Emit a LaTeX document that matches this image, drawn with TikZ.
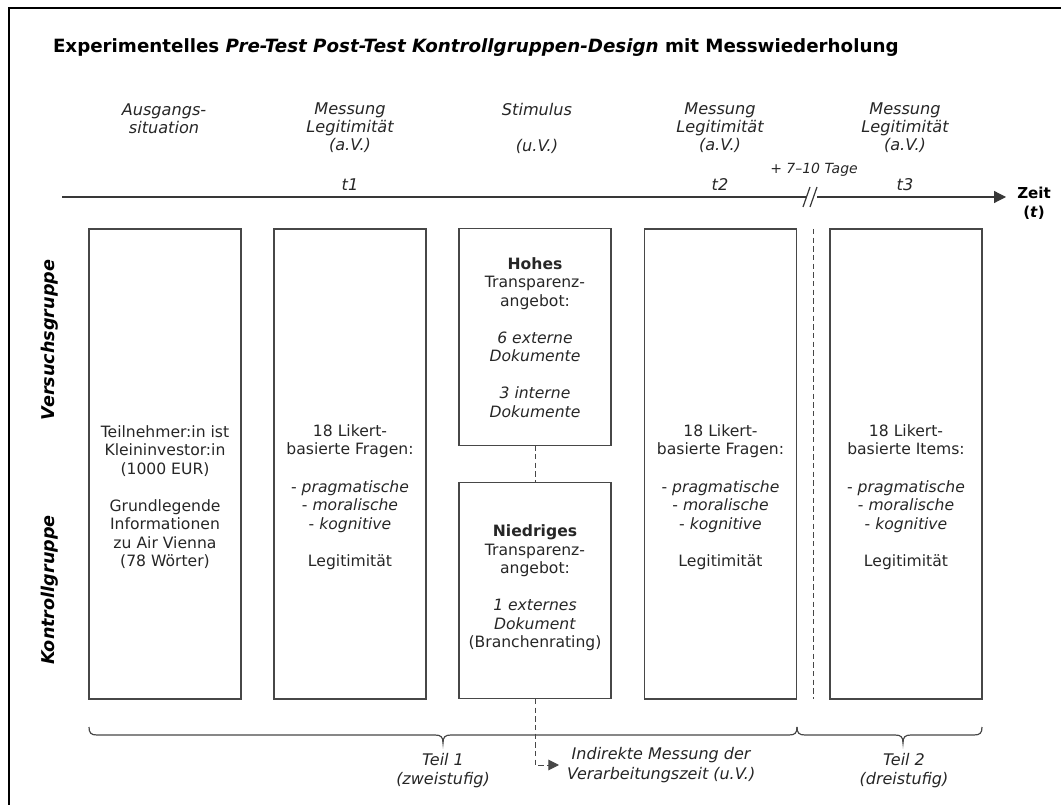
\documentclass[tikz,border=0pt]{standalone}
\usepackage{fontspec}
\setmainfont{DejaVu Sans}
\usetikzlibrary{arrows.meta,calc}
\tikzset{
 every node/.style={inner sep=0pt, outer sep=0pt},
 txt/.style={align=center, font=\fontsize{11.7}{13.9}\selectfont, text=black!85},
 hdr/.style={align=center, font=\fontsize{12.1}{13.5}\selectfont\itshape, text=black!85},
 box/.style={draw=black!72, line width=0.9pt, minimum width=114pt},
 tall/.style={box, minimum height=352.5pt},
 half/.style={box, minimum height=162.5pt},
 dashline/.style={draw=black!72, line width=0.75pt, dash pattern=on 4pt off 2.5pt},
 axisline/.style={draw=black!78, line width=0.9pt},
 grp/.style={rotate=90, font=\fontsize{13.2}{15}\selectfont\bfseries\itshape},
 bracepath/.style={draw=black!72, line width=0.9pt},
}
\begin{document}
\begin{tikzpicture}[x=0.75pt,y=-0.75pt]
\useasboundingbox (0,0) rectangle (1061,805);
\draw[line width=1.5pt] (9,805) -- (9,8) -- (1061,8);

\node[anchor=base west, font=\fontsize{13.7}{15}\selectfont\bfseries] (title) at (53,53)
  {Experimentelles \textit{Pre-Test Post-Test Kontrollgruppen-Design} mit Messwiederholung};

% headers
\node[hdr] (h1) at (164,119) {Ausgangs-\\situation};
\node[hdr] (h2) at (350,128) {Messung\\Legitimität\\(a.V.)};
\node[hdr] (h3) at (537,128) {Stimulus\\[13.5pt](u.V.)};
\node[hdr] (h4) at (720,128) {Messung\\Legitimität\\(a.V.)};
\node[hdr] (h5) at (905,128) {Messung\\Legitimität\\(a.V.)};
\node[hdr] (t1) at (350,185) {t1};
\node[hdr] (t2) at (720,185) {t2};
\node[hdr] (t3) at (905,185) {t3};
\node[hdr, font=\fontsize{10.5}{12}\selectfont\itshape] (tage) at (814,170) {+ 7–10 Tage};

% time axis
\coordinate (ax0) at (62,197);
\coordinate (axb1) at (807,197);
\coordinate (axb2) at (817,197);
\coordinate (ax1) at (1006,197);
\draw[axisline] (ax0) -- (axb1);
\draw[axisline,-{Triangle[length=9pt,width=9pt]}] (axb2) -- (ax1);
\draw[axisline] (803,207) -- (810,187);
\draw[axisline] (810,207) -- (817,187);
\node[align=center, font=\fontsize{11.3}{14}\selectfont\bfseries] (zeit) at (1034,203) {Zeit\\(\textit{t})};

% group labels
\node[grp] (vg) at (50,340) {Versuchsgruppe};
\node[grp] (kg) at (50,590) {Kontrollgruppe};

% boxes
\node[tall] (b1) at (165,464) {};
\node[tall] (b2) at (350,464) {};
\node[half] (hi) at (535,337) {};
\node[half] (lo) at (535,590.5) {};
\node[tall] (b4) at (720.5,464) {};
\node[tall] (b5) at (906,464) {};

\node[txt] (b1t) at (165,497) {Teilnehmer:in ist\\Kleininvestor:in\\(1000 EUR)\\[13.9pt]Grundlegende\\Informationen\\zu Air Vienna\\(78 Wörter)};
\node[txt] (b2t) at (350,497) {18 Likert-\\basierte Fragen:\\[13.9pt]- \textit{pragmatische}\\- \textit{moralische}\\- \textit{kognitive}\\[13.9pt]Legitimität};
\node[txt] (hit) at (535,337.5) {\textbf{Hohes}\\Transparenz-\\angebot:\\[13.9pt]\textit{6 externe}\\\textit{Dokumente}\\[13.9pt]\textit{3 interne}\\\textit{Dokumente}};
\node[txt] (lot) at (535,588) {\textbf{Niedriges}\\Transparenz-\\angebot:\\[13.9pt]\textit{1 externes}\\\textit{Dokument}\\(Branchenrating)};
\node[txt] (b4t) at (720.5,497) {18 Likert-\\basierte Fragen:\\[13.9pt]- \textit{pragmatische}\\- \textit{moralische}\\- \textit{kognitive}\\[13.9pt]Legitimität};
\node[txt] (b5t) at (906,497) {18 Likert-\\basierte Items:\\[13.9pt]- \textit{pragmatische}\\- \textit{moralische}\\- \textit{kognitive}\\[13.9pt]Legitimität};

% dashed connectors
\draw[dashline] (hi.south) -- (lo.north);
\draw[dashline] ($(b4.north east)!0.5!(b5.north west)$) -- ($(b4.south east)!0.5!(b5.south west)$);
\coordinate (arr) at (559,765);
\draw[dashline,-{Triangle[length=8pt,width=8pt]}] (lo.south) |- (arr);
\node[align=center, font=\fontsize{12}{15}\selectfont\itshape, text=black!85, anchor=west] (ind) at (567,765)
  {Indirekte Messung der\\Verarbeitungszeit (u.V.)};

% braces
\draw[bracepath] (89,727) .. controls (89,733) and (91,735) .. (97,735) -- (435,735)
  .. controls (441,735) and (443,737) .. (443,743) .. controls (443,737) and (445,735) .. (451,735)
  -- (789,735) .. controls (795,735) and (797,733) .. (797,727);
\draw[bracepath] (797,727) .. controls (797,733) and (799,735) .. (805,735) -- (895,735)
  .. controls (901,735) and (903,737) .. (903,743) .. controls (903,737) and (905,735) .. (911,735)
  -- (974,735) .. controls (980,735) and (982,733) .. (982,727);
\node[align=center, font=\fontsize{12}{14.25}\selectfont\itshape, text=black!85] (teil1) at (443,771) {Teil 1\\(zweistufig)};
\node[align=center, font=\fontsize{12}{14.25}\selectfont\itshape, text=black!85] (teil2) at (904,771) {Teil 2\\(dreistufig)};
\end{tikzpicture}
\end{document}
